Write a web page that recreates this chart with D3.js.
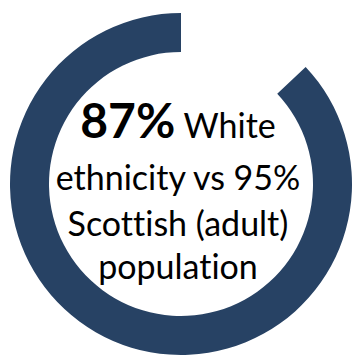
<!DOCTYPE html>
<html>
<head>
<meta charset="utf-8">
<script src="https://cdn.jsdelivr.net/npm/d3@7"></script>
<style>
  html, body { margin: 0; padding: 0; background: #fff; }
  svg { display: block; }
  text { font-variant-ligatures: none; font-feature-settings: "liga" 0, "dlig" 0; }
</style>
</head>
<body>
<div id="chart"></div>
<script>
// Share of respondents of White ethnicity, shown as a ring
const categories = ["White ethnicity", "Other"];
const shares = [87, 13];
const comparisonShare = 95;

const width = 356, height = 358;
const cx = 181, cy = 184;
const outerR = 171, innerR = 132;

const svg = d3.select("#chart").append("svg")
  .attr("width", width)
  .attr("height", height);

const pie = d3.pie()
  .sort(null)
  .value(d => d.value)
  .startAngle(2 * Math.PI * shares[1] / 100)
  .endAngle(2 * Math.PI * (1 + shares[1] / 100));

const data = categories.map((c, i) => ({ key: c, value: shares[i] }));
const arcs = pie(data);
const arc = d3.arc().innerRadius(innerR).outerRadius(outerR);
const colour = d3.scaleOrdinal().domain(categories).range(["#274264", "none"]);

svg.append("g")
  .attr("transform", `translate(${cx},${cy})`)
  .selectAll("path")
  .data(arcs)
  .join("path")
  .attr("d", arc)
  .attr("fill", d => colour(d.data.key));

const font = "Lato, 'Open Sans', sans-serif";
const t = svg.append("g").attr("font-family", font).attr("fill", "#000").attr("text-anchor", "middle");

const l1 = t.append("text").attr("x", 178).attr("y", 138);
l1.append("tspan").attr("font-weight", "bold").attr("font-size", 48).text(`${shares[0]}%`);
l1.append("tspan").attr("font-size", 34).text(" White");

t.append("text").attr("x", 178).attr("y", 190).attr("font-size", 34)
  .text(`ethnicity vs ${comparisonShare}%`);
t.append("text").attr("x", 178).attr("y", 236).attr("font-size", 34)
  .text("Scottish (adult)");
t.append("text").attr("x", 178).attr("y", 279).attr("font-size", 34)
  .text("population");
</script>
</body>
</html>
